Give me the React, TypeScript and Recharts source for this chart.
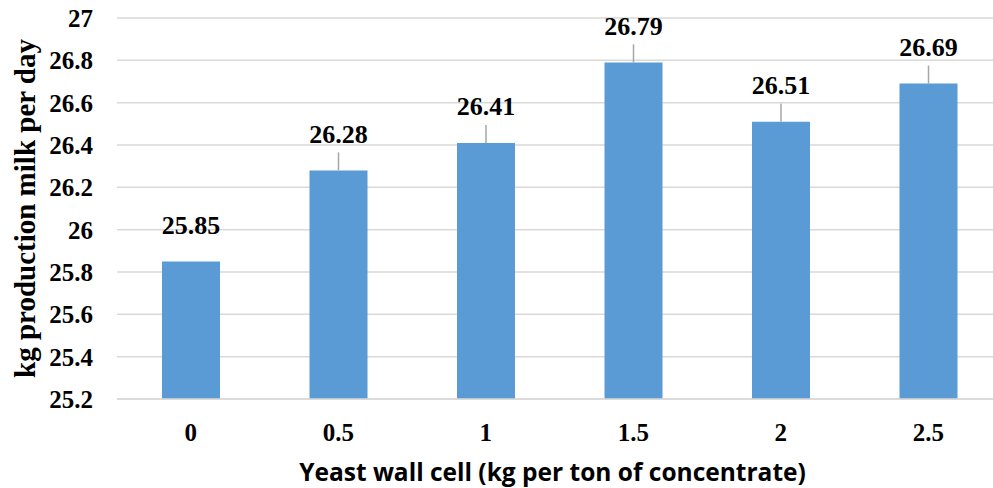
import { BarChart, Bar, XAxis, YAxis, CartesianGrid, LabelList } from "recharts";

// yeast wall cell dose (kg per ton of concentrate)
const doses = ["0", "0.5", "1", "1.5", "2", "2.5"];
// milk production, kg per day
const milkYield = [25.85, 26.28, 26.41, 26.79, 26.51, 26.69];
const yTicks = [25.2, 25.4, 25.6, 25.8, 26, 26.2, 26.4, 26.6, 26.8, 27];
// Excel only drew a leader line where the label had been dragged away
const showLeader = [false, true, true, true, true, true];

const data = doses.map((dose, i) => ({ dose, milk: milkYield[i] }));

const serif = "'Liberation Serif', 'Times New Roman', serif";

const ValueLabel = (props: any) => {
  const { x, y, width, value, index } = props;
  const cx = x + width / 2;
  return (
    <g>
      {showLeader[index] && (
        <line x1={cx} y1={y} x2={cx} y2={y - 18} stroke="#a6a6a6" strokeWidth={1.5} />
      )}
      <text
        x={cx}
        y={y - 36}
        textAnchor="middle"
        dominantBaseline="central"
        fontFamily={serif}
        fontWeight="bold"
        fontSize={26}
        fill="#000"
      >
        {value}
      </text>
    </g>
  );
};

const YTitle = (props: any) => {
  const { viewBox } = props;
  const cy = viewBox.y + viewBox.height / 2;
  return (
    <text
      x={25}
      y={cy}
      transform={`rotate(-90, 25, ${cy})`}
      textAnchor="middle"
      dominantBaseline="central"
      fontFamily={serif}
      fontWeight="bold"
      fontSize={29}
      fill="#000"
    >
      kg production milk per day
    </text>
  );
};

export default function App() {
  return (
    <div style={{ position: "absolute", left: 0, top: 0, width: 993, height: 488, overflow: "hidden", background: "#fff" }}>
      <BarChart
        width={1010}
        height={488}
        data={data}
        margin={{ top: 18, right: 8, left: 0, bottom: 0 }}
      >
        <CartesianGrid vertical={false} stroke="#d9d9d9" strokeWidth={1.5} />
        <XAxis
          dataKey="dose"
          height={89}
          axisLine={{ stroke: "#d9d9d9", strokeWidth: 1.5 }}
          tickLine={false}
          tickSize={0}
          tickMargin={24}
          tick={{ fontFamily: serif, fontWeight: "bold", fontSize: 25, fill: "#000" }}
          label={{
            value: "Yeast wall cell (kg per ton of concentrate)",
            position: "insideBottom",
            offset: 7,
            dx: -7,
            style: { fontFamily: "'Open Sans', sans-serif", fontWeight: "bold", fontSize: 24.5, fill: "#000" },
          }}
        />
        <YAxis
          width={117}
          domain={[25.2, 27]}
          ticks={yTicks}
          interval={0}
          axisLine={false}
          tickLine={false}
          tickSize={0}
          tickMargin={24}
          tick={{ fontFamily: serif, fontWeight: "bold", fontSize: 25, fill: "#000" }}
          label={<YTitle />}
        />
        <Bar dataKey="milk" fill="#5b9bd5" barSize={58} isAnimationActive={false}>
          <LabelList dataKey="milk" content={ValueLabel} />
        </Bar>
      </BarChart>
    </div>
  );
}
